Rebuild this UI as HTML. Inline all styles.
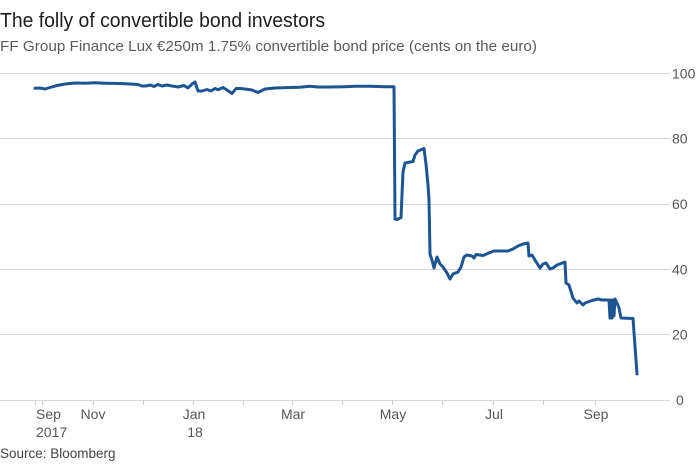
<!DOCTYPE html>
<html>
<head>
<meta charset="utf-8">
<style>
  html, body { margin: 0; padding: 0; background: #ffffff; }
  body { width: 700px; height: 466px; overflow: hidden; }
  svg { display: block; }
  text { font-family: "Liberation Sans", "DejaVu Sans", sans-serif; }
</style>
</head>
<body>
<svg width="700" height="466" viewBox="0 0 700 466" xmlns="http://www.w3.org/2000/svg">
  <!-- Title & subtitle -->
  <text x="0" y="27" font-size="20" fill="#1e1e1e" textLength="325" lengthAdjust="spacingAndGlyphs">The folly of convertible bond investors</text>
  <text x="0" y="51" font-size="15" fill="#5a5a5a" textLength="537" lengthAdjust="spacingAndGlyphs">FF Group Finance Lux €250m 1.75% convertible bond price (cents on the euro)</text>

  <!-- Gridlines -->
  <g stroke="#d6d6d6" stroke-width="1">
    <line x1="0" y1="73.5" x2="670" y2="73.5"/>
    <line x1="0" y1="138.5" x2="670" y2="138.5"/>
    <line x1="0" y1="204.5" x2="670" y2="204.5"/>
    <line x1="0" y1="269.5" x2="670" y2="269.5"/>
    <line x1="0" y1="334.5" x2="670" y2="334.5"/>
    <line x1="0" y1="400.5" x2="670" y2="400.5"/>
  </g>

  <!-- X ticks -->
  <g stroke="#cfcfcf" stroke-width="1">
    <line x1="35.5" y1="400" x2="35.5" y2="405"/>
    <line x1="42.5" y1="400" x2="42.5" y2="405"/>
    <line x1="93.5" y1="400" x2="93.5" y2="405"/>
    <line x1="143.5" y1="400" x2="143.5" y2="405"/>
    <line x1="193.5" y1="400" x2="193.5" y2="405"/>
    <line x1="243.5" y1="400" x2="243.5" y2="405"/>
    <line x1="292.5" y1="400" x2="292.5" y2="405"/>
    <line x1="342.5" y1="400" x2="342.5" y2="405"/>
    <line x1="392.5" y1="400" x2="392.5" y2="405"/>
    <line x1="442.5" y1="400" x2="442.5" y2="405"/>
    <line x1="493.5" y1="400" x2="493.5" y2="405"/>
    <line x1="543.5" y1="400" x2="543.5" y2="405"/>
    <line x1="595.5" y1="400" x2="595.5" y2="405"/>
  </g>

  <!-- Y labels -->
  <g font-size="14" fill="#555555">
    <text x="672" y="78.5">100</text>
    <text x="672" y="143.5">80</text>
    <text x="672" y="209">60</text>
    <text x="672" y="274.5">40</text>
    <text x="672" y="339.5">20</text>
    <text x="676" y="405">0</text>
  </g>

  <!-- X labels -->
  <g font-size="14" fill="#555555">
    <text x="36" y="419">Sep</text>
    <text x="36" y="437">2017</text>
    <text x="93" y="419" text-anchor="middle">Nov</text>
    <text x="194" y="419" text-anchor="middle">Jan</text>
    <text x="195" y="437" text-anchor="middle">18</text>
    <text x="293" y="419" text-anchor="middle">Mar</text>
    <text x="393" y="419" text-anchor="middle">May</text>
    <text x="494" y="419" text-anchor="middle">Jul</text>
    <text x="596" y="419" text-anchor="middle">Sep</text>
  </g>

  <!-- Source -->
  <text x="0" y="458" font-size="13.5" fill="#444444">Source: Bloomberg</text>

  <!-- Series -->
  <polyline fill="none" stroke="#1d5593" stroke-width="3" stroke-linejoin="round" stroke-linecap="round"
    points="35,88.3 40,88 45,89 50,87.5 57,85.5 65,84 75,83 85,83.3 95,82.8 105,83.2 120,83.5 130,84 138,84.5 142,86 146,86 150,85 154,86.5 158,84.5 162,86 167,85 172,86 178,87 184,85.5 188,88 192,84 195,82 198,91 202,91 207,89.5 211,91 215,88.5 218,89.7 223,87.5 227,90 232,93.5 236,88.5 240,88.5 245,89 252,90 258,92.5 265,89 275,88 290,87.5 300,87.2 310,86.3 318,87 330,87 345,86.7 355,86.3 370,86.3 385,86.7 394,86.7 395,219 397,219.5 401,217.5 403,172 405,163 413,161.5 415,155 418,151 424,148.5 426,164 428,185 429,200 430,254 432,260 434,268 437,257 440,264 443,267 447,273 450,279 453,274 458,272 461,267 464,257 467,255 472,256 474,258 476,254.5 483,255.5 490,252.5 494,251 508,251 513,249 518,246 523,244 528,243 529,256 532,255 535,260 540,268 543,264 546,263 550,269 553,268 557,265 565,262 566,283 569,285 573,298 577,303 579,301 583,305 585,303 592,300.5 598,299 602,300 609,300 610,318 611,300 612,318 613,300 614,316 615,299 617,303 619,308 621,318 633,318.5 637,374"/>
</svg>
</body>
</html>
